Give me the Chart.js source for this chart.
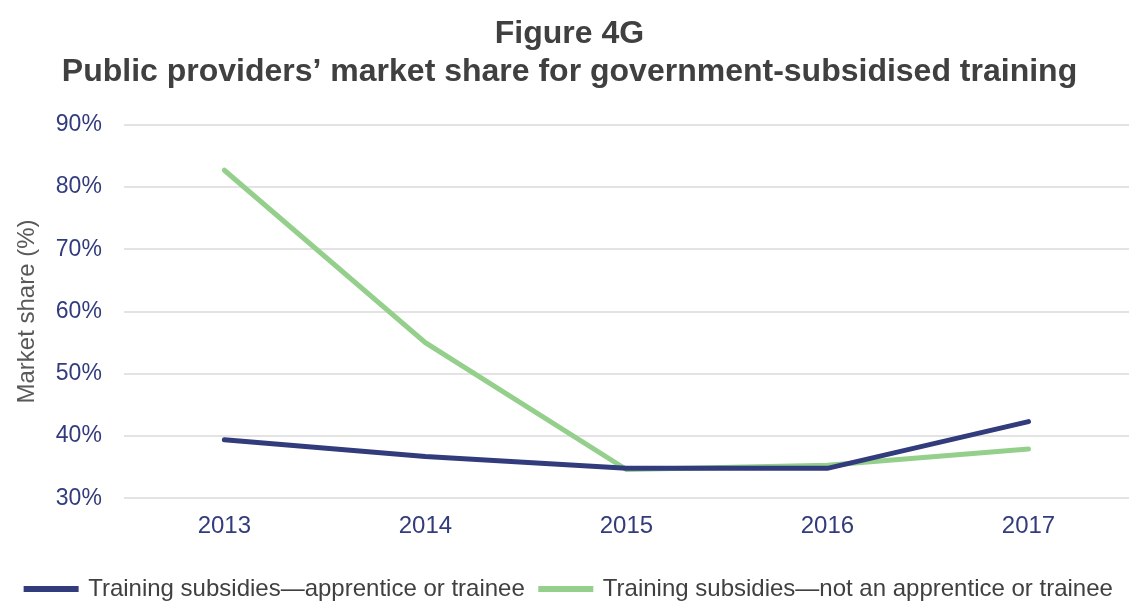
<!DOCTYPE html>
<html>
<head>
<meta charset="utf-8">
<script src="https://cdn.jsdelivr.net/npm/chart.js@4/dist/chart.umd.min.js"></script>
<style>
html,body{margin:0;padding:0;background:#fff;}
#wrap{width:1129px;height:601px;position:relative;}
</style>
</head>
<body>
<div id="wrap"><canvas id="c" width="1129" height="601"></canvas></div>
<script>
const categories = ['2013','2014','2015','2016','2017'];
const apprenticeValues = [39.4, 36.7, 34.8, 34.8, 42.3];
const nonApprenticeValues = [82.7, 55.0, 34.6, 35.3, 37.9];
const seriesNames = ['Training subsidies\u2014apprentice or trainee','Training subsidies\u2014not an apprentice or trainee'];
const yTicks = [30,40,50,60,70,80,90];

const FONT = "'Liberation Sans', Arial, sans-serif";
new Chart(document.getElementById('c'), {
  type: 'line',
  data: {
    labels: categories,
    datasets: [
      {label: seriesNames[0], data: apprenticeValues, borderColor:'#323c7c', backgroundColor:'#323c7c', borderWidth:5, pointRadius:0, tension:0, borderCapStyle:'round'},
      {label: seriesNames[1], data: nonApprenticeValues, borderColor:'#94cf8c', backgroundColor:'#94cf8c', borderWidth:5, pointRadius:0, tension:0, borderCapStyle:'round'}
    ]
  },
  options: {
    responsive:false, animation:false,
    layout:{padding:{left:5,right:-5,top:0,bottom:-10}},
    plugins:{
      title:{display:true, text:['Figure 4G','Public providers\u2019 market share for government-subsidised training'], color:'#404040', font:{family:FONT, size:32, weight:'bold'}, padding:{top:15,bottom:33}, lineHeight:1.38},
      legend:{position:'bottom', labels:{color:'#404040', font:{family:FONT,size:24}, boxWidth:50, boxHeight:1, padding:16}},
      tooltip:{enabled:false}
    },
    scales:{
      x:{offset:true, grid:{display:false}, border:{display:false}, ticks:{color:'#323c7c', font:{family:FONT,size:24}, padding:6},
         afterFit:(ax)=>{ax.height += 14;}},
      y:{min:30, max:90, afterBuildTicks:(ax)=>{ax.ticks = yTicks.map(v=>({value:v}));},
         grid:{color:'#e3e3e3', lineWidth:2, drawTicks:false}, border:{display:false},
         ticks:{color:'#323c7c', font:{family:FONT,size:23}, padding:22, callback:(v)=>v+'%'},
         title:{display:true, text:'Market share (%)', color:'#595959', font:{family:FONT,size:24}, padding:{top:8,bottom:-8}}}
    }
  }
});
</script>
</body>
</html>
